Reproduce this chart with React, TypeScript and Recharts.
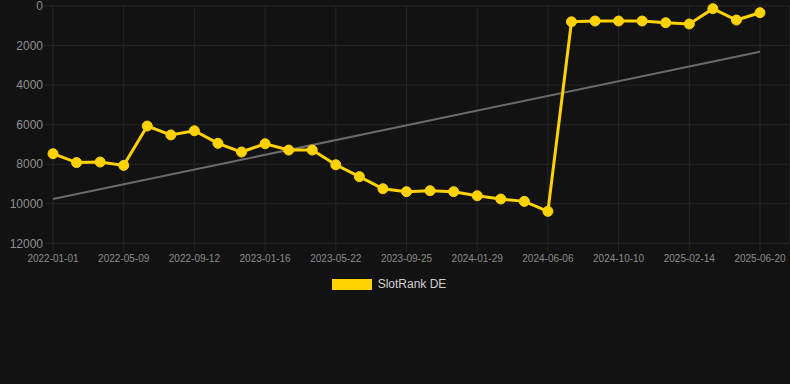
import { CartesianGrid, Legend, Line, LineChart, XAxis, YAxis } from "recharts";

const dates = [
  "2022-01-01", "2022-02-12", "2022-03-26",
  "2022-05-09", "2022-06-20", "2022-08-01",
  "2022-09-12", "2022-10-24", "2022-12-05",
  "2023-01-16", "2023-02-27", "2023-04-10",
  "2023-05-22", "2023-07-03", "2023-08-14",
  "2023-09-25", "2023-11-06", "2023-12-18",
  "2024-01-29", "2024-03-11", "2024-04-22",
  "2024-06-06", "2024-07-18", "2024-08-29",
  "2024-10-10", "2024-11-21", "2025-01-02",
  "2025-02-14", "2025-03-28", "2025-05-09",
  "2025-06-20",
];

const slotRank = [
  7470, 7920, 7890, 8060, 6070, 6520, 6310, 6945, 7385, 6965, 7285,
  7285, 8030, 8630, 9240, 9390, 9340, 9390, 9595, 9760, 9880, 10385,
  800, 760, 760, 760, 845, 910, 135, 710, 340,
];

const trendStart = 9760;
const trendEnd = 2310;

const tickLabels = [
  "2022-01-01", "2022-05-09", "2022-09-12", "2023-01-16", "2023-05-22",
  "2023-09-25", "2024-01-29", "2024-06-06", "2024-10-10", "2025-02-14",
  "2025-06-20",
];

const yTicks = [0, 2000, 4000, 6000, 8000, 10000, 12000];

const data = dates.map((date, i) => ({
  date,
  rank: slotRank[i],
  trend: i === 0 ? trendStart : i === dates.length - 1 ? trendEnd : null,
}));

const YELLOW = "#FFD200";
const GRID = "#262626";

function LegendContent() {
  return (
    <div style={{ display: "flex", justifyContent: "center", alignItems: "center", marginLeft: -12 }}>
      <span
        style={{
          display: "inline-block",
          width: 40,
          height: 11,
          background: YELLOW,
          marginRight: 6,
        }}
      />
      <span style={{ fontSize: 12, color: "#cfcfcf" }}>SlotRank DE</span>
    </div>
  );
}

export default function App() {
  return (
    <div style={{ width: 790, height: 384, background: "#121212", fontFamily: "Arial, 'Liberation Sans', sans-serif" }}>
      <style>{"body{margin:0}"}</style>
      <LineChart
        width={790}
        height={384}
        data={data}
        margin={{ top: 6, right: 0, bottom: 110.7, left: 0 }}
      >
        <CartesianGrid stroke={GRID} strokeWidth={1} />
        <XAxis
          dataKey="date"
          ticks={tickLabels}
          interval={0}
          height={30}
          padding={{ left: 0, right: 30 }}
          axisLine={false}
          tickSize={8}
          tickMargin={4}
          tickLine={{ stroke: GRID }}
          tick={{ fontSize: 10, fill: "#8c8c8c" }}
        />
        <YAxis
          reversed
          domain={[0, 12000]}
          ticks={yTicks}
          interval={0}
          width={53}
          axisLine={false}
          tickSize={8}
          tickMargin={2}
          tickLine={{ stroke: GRID }}
          tick={{ fontSize: 12, fill: "#8f8f8f" }}
        />
        <Legend
          layout="horizontal"
          verticalAlign="middle"
          align="center"
          wrapperStyle={{ top: 277, left: 0, width: 790 }}
          content={<LegendContent />}
        />
        <Line
          dataKey="trend"
          stroke="#6b6b6b"
          strokeWidth={2}
          dot={false}
          connectNulls
          legendType="none"
          isAnimationActive={false}
        />
        <Line
          dataKey="rank"
          name="SlotRank DE"
          stroke={YELLOW}
          strokeWidth={3}
          dot={{ r: 5, fill: YELLOW, stroke: YELLOW, strokeWidth: 1 }}
          activeDot={false}
          isAnimationActive={false}
        />
      </LineChart>
    </div>
  );
}
